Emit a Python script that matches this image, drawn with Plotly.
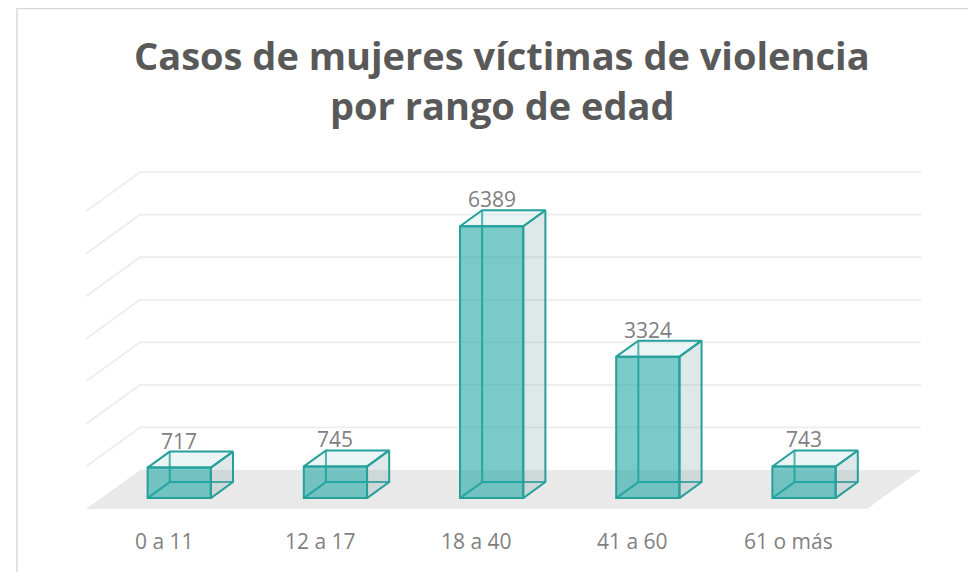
import plotly.graph_objects as go

# ---- data ----
categories = ["0 a 11", "12 a 17", "18 a 40", "41 a 60", "61 o más"]
values = [717, 745, 6389, 3324, 743]
grid_values = [1000, 2000, 3000, 4000, 5000, 6000, 7000]

# ---- layout constants (pixels; page has an 8px body margin) ----
W, H = 976, 572
OFF = 8.0
PX_LEFT = 86.0 - OFF      # front-left corner of floor
PX_CAT = 156.2            # pixels per category
PX_FLOOR = 509.0 - OFF    # front edge of floor
SY = 0.04255              # pixels per value unit
DEPTH_X = 54.0 / PX_CAT   # oblique shift (category units) for full depth
DEPTH_Y = 39.0 / SY       # oblique shift (value units) for full depth
Z1, Z2 = 0.28, 0.69       # bar front/back depth
BAR_W = 0.405

x_range = [-PX_LEFT / PX_CAT, (W - PX_LEFT) / PX_CAT]
y_range = [(PX_FLOOR - H) / SY, PX_FLOOR / SY]

EDGE = "#26A09B"
FRONT = "rgba(38,170,166,0.62)"
SIDE = "rgba(150,180,180,0.30)"
TOP = "rgba(190,222,222,0.30)"
FLOOR = "#E9E9E9"
GRID = "#EDEDED"
LABEL = "#7F7F7F"

n = len(categories)
fig = go.Figure()

# floor
fig.add_trace(go.Scatter(
    x=[0, n, n + DEPTH_X, DEPTH_X, 0],
    y=[0, 0, DEPTH_Y, DEPTH_Y, 0],
    fill="toself", fillcolor=FLOOR, mode="lines", line=dict(width=0),
    hoverinfo="skip", showlegend=False))

# gridlines: left wall + back wall
gx, gy = [], []
for v in grid_values:
    gx += [0, DEPTH_X, n + DEPTH_X, None]
    gy += [v, v + DEPTH_Y, v + DEPTH_Y, None]
fig.add_trace(go.Scatter(x=gx, y=gy, mode="lines",
                         line=dict(color=GRID, width=1.8),
                         hoverinfo="skip", showlegend=False))

d1x, d1y = Z1 * DEPTH_X, Z1 * DEPTH_Y
d2x, d2y = Z2 * DEPTH_X, Z2 * DEPTH_Y

for i, v in enumerate(values):
    c = i + 0.5
    xl, xr = c - BAR_W / 2, c + BAR_W / 2
    # hidden edges (seen through the front face)
    fig.add_trace(go.Scatter(
        x=[xl + d2x, xl + d2x, None, xl + d2x, xr + d2x, None, xl + d1x, xl + d2x],
        y=[d2y, v + d2y, None, d2y, d2y, None, d1y, d2y],
        mode="lines", line=dict(color=EDGE, width=2),
        hoverinfo="skip", showlegend=False))
    # right side face
    fig.add_trace(go.Scatter(
        x=[xr + d1x, xr + d2x, xr + d2x, xr + d1x, xr + d1x],
        y=[d1y, d2y, v + d2y, v + d1y, d1y],
        fill="toself", fillcolor=SIDE, mode="lines",
        line=dict(color=EDGE, width=2), hoverinfo="skip", showlegend=False))
    # top face
    fig.add_trace(go.Scatter(
        x=[xl + d1x, xl + d2x, xr + d2x, xr + d1x, xl + d1x],
        y=[v + d1y, v + d2y, v + d2y, v + d1y, v + d1y],
        fill="toself", fillcolor=TOP, mode="lines",
        line=dict(color=EDGE, width=2), hoverinfo="skip", showlegend=False))

# front faces as real bars on an overlaying axis pair (drawn on top)
fig.add_trace(go.Bar(
    x=[i + 0.5 + d1x for i in range(n)], y=values, base=[d1y] * n,
    width=BAR_W, marker=dict(color=FRONT, line=dict(color=EDGE, width=2)),
    hovertext=categories, showlegend=False, xaxis="x2", yaxis="y2"))

annotations = []
for i, v in enumerate(values):
    annotations.append(dict(
        x=i + 0.5 + d1x, y=v + d2y, xref="x", yref="y", text=str(v),
        showarrow=False, yanchor="bottom", yshift=-5,
        font=dict(family="Open Sans", size=21, color=LABEL)))
    annotations.append(dict(
        x=i + 0.5, y=(PX_FLOOR - (541 - OFF)) / SY, xref="x", yref="y",
        text=categories[i], showarrow=False, yanchor="middle",
        font=dict(family="Open Sans", size=21, color=LABEL)))

title_lines = ["Casos de mujeres víctimas de violencia", "por rango de edad"]
title_py = [47, 97]
for t, py in zip(title_lines, title_py):
    annotations.append(dict(
        x=(502 - OFF) / W, y=1 - py / H, xref="paper", yref="paper",
        text="<b>" + t + "</b>", showarrow=False,
        xanchor="center", yanchor="middle",
        font=dict(family="Open Sans", size=38, color="#595959")))

axis_common = dict(visible=False, fixedrange=True)
fig.update_layout(
    width=W, height=H, margin=dict(l=0, r=0, t=0, b=0),
    paper_bgcolor="white", plot_bgcolor="white",
    barmode="overlay",
    xaxis=dict(range=x_range, **axis_common),
    yaxis=dict(range=y_range, **axis_common),
    xaxis2=dict(range=x_range, overlaying="x", **axis_common),
    yaxis2=dict(range=y_range, overlaying="y", **axis_common),
    annotations=annotations,
    shapes=[dict(type="rect", xref="paper", yref="paper",
                 x0=(17 - OFF) / W, x1=1.05, y0=-0.05, y1=1 - 0.5 / H,
                 line=dict(color="#D9D9D9", width=1.5))],
)

fig.write_html("out.html")
